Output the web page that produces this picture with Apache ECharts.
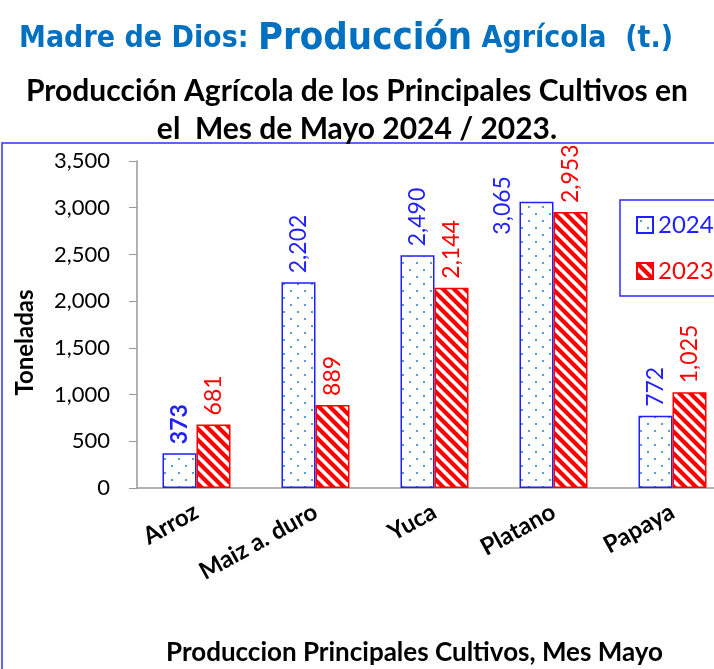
<!DOCTYPE html>
<html>
<head>
<meta charset="utf-8">
<script src="https://cdn.jsdelivr.net/npm/echarts@6/dist/echarts.min.js"></script>
<style>
  html, body { margin: 0; padding: 0; background: #fff; }
  #chart { width: 714px; height: 669px; }
</style>
</head>
<body>
<div id="chart"></div>
<script>
// datos del grafico
var cultivos = ['Arroz', 'Maiz a. duro', 'Yuca', 'Platano', 'Papaya'];
var anio2024 = [373, 2202, 2490, 3065, 772];
var anio2023 = [681, 889, 2144, 2953, 1025];
var ejeTicks = [0, 500, 1000, 1500, 2000, 2500, 3000, 3500];

var FONT = 'Lato, "Open Sans", sans-serif';
var AZUL = '#1F1FFF';
var ROJO = '#FF0000';

// patron de puntos (2024)
function patronPuntos() {
    var c = document.createElement('canvas');
    c.width = 14; c.height = 14;
    var ctx = c.getContext('2d');
    ctx.fillStyle = '#fff';
    ctx.fillRect(0, 0, 14, 14);
    ctx.fillStyle = '#5B9BD5';
    ctx.fillRect(3, 3, 2, 2);
    ctx.fillRect(10, 10, 2, 2);
    return c;
}

// patron de rayas diagonales (2023)
function patronRayas() {
    var s = 11;
    var c = document.createElement('canvas');
    c.width = s; c.height = s;
    var ctx = c.getContext('2d');
    ctx.fillStyle = '#fff';
    ctx.fillRect(0, 0, s, s);
    ctx.strokeStyle = ROJO;
    ctx.lineWidth = 4.2;
    for (var k = -1; k <= 1; k++) {
        ctx.beginPath();
        ctx.moveTo(k * s - 2, -2);
        ctx.lineTo(k * s + s + 2, s + 2);
        ctx.stroke();
    }
    return c;
}

function fmt(v) {
    return v.toLocaleString('en-US');
}

var datos2024 = anio2024.map(function (v, i) {
    var d = { value: v };
    if (i === 0) {
        d.label = { fontWeight: 'bold' };
    }
    if (i === 3) {
        // etiqueta a la izquierda de la barra
        d.label = { position: [-17, 33] };
    }
    return d;
});

var chart = echarts.init(document.getElementById('chart'));
chart.setOption({
    animation: false,
    backgroundColor: '#fff',
    title: [{
        text: '{a|Madre de Dios: }{b|Producción}{a| Agrícola  (t.)}',
        left: 341,
        textAlign: 'center',
        top: 15,
        textStyle: {
            rich: {
                a: { fontFamily: '"DejaVu Sans Condensed", "DejaVu Sans", sans-serif', fontWeight: 'bold', fontSize: 30, color: '#0070C0' },
                b: { fontFamily: '"DejaVu Sans Condensed", "DejaVu Sans", sans-serif', fontWeight: 'bold', fontSize: 38, color: '#0070C0' }
            }
        }
    }, {
        text: 'Producción Agrícola de los Principales Cultivos en\nel  Mes de Mayo 2024 / 2023.',
        left: 352,
        textAlign: 'center',
        top: 67,
        textStyle: {
            fontFamily: FONT,
            fontWeight: 'bold',
            fontSize: 30,
            lineHeight: 38,
            color: '#000'
        }
    }],
    graphic: [{
        type: 'rect',
        shape: { x: 2, y: 143, width: 800, height: 600 },
        style: { fill: 'none', stroke: '#2E2EFF', lineWidth: 1.5 },
        z: 0
    }],
    legend: {
        orient: 'vertical',
        left: 620,
        top: 200,
        width: 140,
        padding: [13, 40, 13, 16],
        itemGap: 22,
        itemWidth: 16,
        itemHeight: 16,
        borderColor: '#2E2EFF',
        borderWidth: 1.5,
        icon: 'rect',
        textStyle: { fontFamily: FONT, fontSize: 24 },
        data: [
            { name: '2024', textStyle: { color: AZUL } },
            { name: '2023', textStyle: { color: ROJO } }
        ]
    },
    grid: {
        left: 137,
        top: 161,
        width: 595,
        height: 327,
        outerBoundsMode: 'none'
    },
    xAxis: {
        type: 'category',
        data: cultivos,
        name: 'Produccion Principales Cultivos, Mes Mayo',
        nameLocation: 'middle',
        nameGap: 152,
        nameTextStyle: { fontFamily: FONT, fontWeight: 'bold', fontSize: 26, color: '#000', padding: [0, 40, 0, 0] },
        axisLine: { lineStyle: { color: '#999', width: 1.5 } },
        axisTick: { show: false },
        axisLabel: {
            rotate: 29,
            margin: 22,
            interval: 0,
            fontFamily: FONT,
            fontWeight: 'bold',
            fontSize: 24,
            color: '#000'
        }
    },
    yAxis: {
        type: 'value',
        min: 0,
        max: 3500,
        interval: 500,
        name: 'Toneladas',
        nameLocation: 'middle',
        nameGap: 100,
        nameTextStyle: { fontFamily: FONT, fontWeight: 'bold', fontSize: 24, color: '#000', padding: [0, 36, 0, 0] },
        axisLine: { show: true, lineStyle: { color: '#999', width: 1.5 } },
        axisTick: { show: true, inside: false, length: 8, lineStyle: { color: '#999' } },
        splitLine: { show: false },
        axisLabel: {
            margin: 27,
            fontFamily: FONT,
            fontSize: 22,
            color: '#000',
            formatter: function (v) { return fmt(v); }
        }
    },
    series: [{
        name: '2024',
        type: 'bar',
        data: datos2024,
        barWidth: 34,
        barGap: '0%',
        itemStyle: {
            color: { image: patronPuntos(), repeat: 'repeat' },
            borderColor: AZUL,
            borderWidth: 1.5
        },
        label: {
            show: true,
            position: 'top',
            rotate: 90,
            align: 'left',
            verticalAlign: 'middle',
            distance: 9,
            fontFamily: FONT,
            fontSize: 23,
            color: AZUL,
            formatter: function (p) { return fmt(p.value); }
        }
    }, {
        name: '2023',
        type: 'bar',
        data: anio2023,
        barWidth: 34,
        itemStyle: {
            color: { image: patronRayas(), repeat: 'repeat' },
            borderColor: ROJO,
            borderWidth: 1.5
        },
        label: {
            show: true,
            position: 'top',
            rotate: 90,
            align: 'left',
            verticalAlign: 'middle',
            distance: 9,
            fontFamily: FONT,
            fontSize: 23,
            color: ROJO,
            formatter: function (p) { return fmt(p.value); }
        }
    }]
});
</script>
</body>
</html>
